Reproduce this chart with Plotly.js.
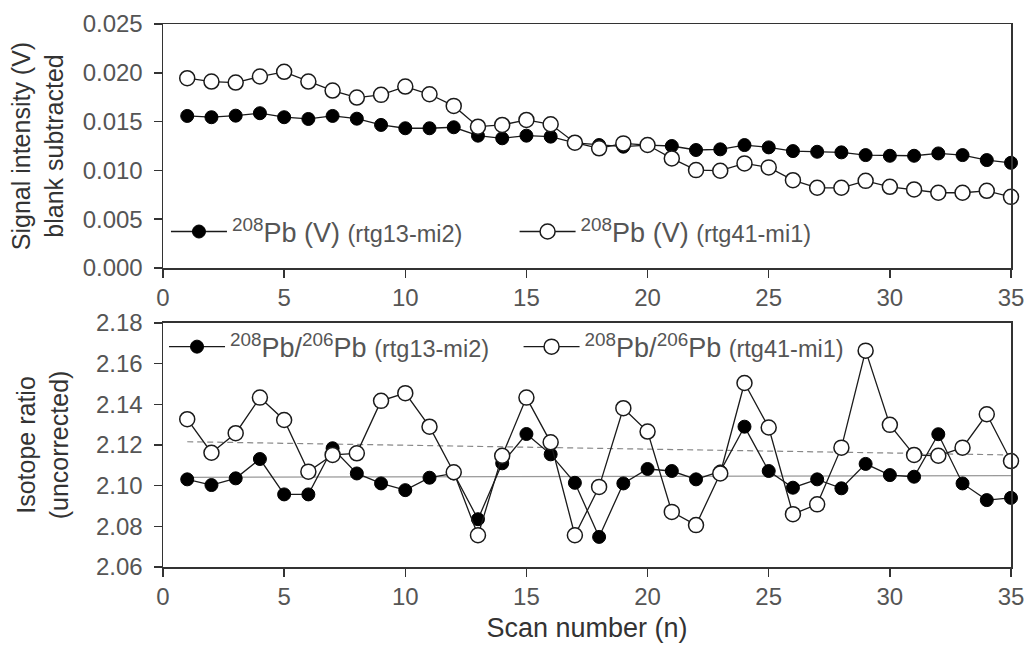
<!DOCTYPE html>
<html>
<head>
<meta charset="utf-8">
<script src="https://cdn.plot.ly/plotly-3.0.1.min.js"></script>
<style>html,body{margin:0;padding:0;background:#fff;}#chart{width:1028px;height:645px;}</style>
</head>
<body>
<div id="chart"></div>
<script>
// ---- data ----
var scan = [1,2,3,4,5,6,7,8,9,10,11,12,13,14,15,16,17,18,19,20,21,22,23,24,25,26,27,28,29,30,31,32,33,34,35];

// 208Pb signal (V), blank subtracted
var pb208_rtg13 = [0.01558,0.01545,0.01561,0.01586,0.01545,0.01527,0.01558,0.01530,0.01466,0.01432,0.01432,0.01442,0.01356,0.01329,0.01356,0.01346,0.01282,0.01260,0.01243,0.01260,0.01250,0.01209,0.01216,0.01260,0.01236,0.01198,0.01191,0.01185,0.01157,0.01150,0.01150,0.01174,0.01157,0.01106,0.01078];
var pb208_rtg41 = [0.01945,0.01910,0.01900,0.01962,0.02010,0.01910,0.01818,0.01746,0.01774,0.01859,0.01780,0.01661,0.01448,0.01466,0.01517,0.01473,0.01284,0.01226,0.01277,0.01260,0.01123,0.01003,0.00997,0.01072,0.01031,0.00900,0.00822,0.00822,0.00893,0.00832,0.00805,0.00771,0.00771,0.00791,0.00729];

// 208Pb/206Pb isotope ratio (uncorrected)
var ratio_rtg13 = [2.1031,2.1003,2.1036,2.1131,2.0957,2.0957,2.1184,2.1060,2.1011,2.0978,2.1039,2.1060,2.0835,2.1110,2.1254,2.1154,2.1014,2.0748,2.1011,2.1082,2.1072,2.1031,2.1070,2.1290,2.1072,2.0990,2.1031,2.0987,2.1107,2.1052,2.1044,2.1253,2.1011,2.0929,2.0940];
var ratio_rtg41 = [2.1327,2.1162,2.1258,2.1433,2.1323,2.1069,2.1151,2.1159,2.1417,2.1455,2.1290,2.1066,2.0756,2.1147,2.1433,2.1213,2.0756,2.0994,2.1381,2.1266,2.0871,2.0806,2.1060,2.1505,2.1286,2.0860,2.0908,2.1187,2.1664,2.1299,2.1151,2.1147,2.1187,2.1351,2.1121];

// trend lines (end points)
var trendX = [1, 35];
var trend_rtg13 = [2.1041, 2.1049];
var trend_rtg41 = [2.1216, 2.1151];

// labels
var name1 = '<sup>208</sup>Pb (V) <span style="font-size:23.5px">(rtg13-mi2)</span>';
var name2 = '<sup>208</sup>Pb (V) <span style="font-size:23.5px">(rtg41-mi1)</span>';
var name3 = '<sup>208</sup>Pb/<sup>206</sup>Pb <span style="font-size:23.5px">(rtg13-mi2)</span>';
var name4 = '<sup>208</sup>Pb/<sup>206</sup>Pb <span style="font-size:23.5px">(rtg41-mi1)</span>';
var xTitle = 'Scan number (n)';
var yTitleTop = 'Signal intensity (V)<br>blank subtracted';
var yTitleBottom = 'Isotope ratio<br>(uncorrected)';

// ---- styles ----
var lineCol = '#1a1a1a';
var filledMarker = {symbol:'circle', size:13, color:'#000', line:{color:'#000', width:1}};
var openMarker = {symbol:'circle', size:15, color:'#fff', line:{color:'#1a1a1a', width:1.5}};

var traces = [
  {x:trendX, y:trend_rtg13, xaxis:'x2', yaxis:'y2', mode:'lines', line:{color:'#999', width:1.2}, showlegend:false, hoverinfo:'skip'},
  {x:trendX, y:trend_rtg41, xaxis:'x2', yaxis:'y2', mode:'lines', line:{color:'#888', width:1.2, dash:'6px,4px'}, showlegend:false, hoverinfo:'skip'},
  {x:scan, y:pb208_rtg13, xaxis:'x', yaxis:'y', mode:'lines+markers', name:name1, legend:'legend',
   line:{color:lineCol, width:1.3}, marker:filledMarker, cliponaxis:false},
  {x:scan, y:pb208_rtg41, xaxis:'x', yaxis:'y', mode:'lines+markers', name:name2, legend:'legend2',
   line:{color:lineCol, width:1.3}, marker:openMarker, cliponaxis:false},
  {x:scan, y:ratio_rtg13, xaxis:'x2', yaxis:'y2', mode:'lines+markers', name:name3, legend:'legend3',
   line:{color:lineCol, width:1.3}, marker:filledMarker, cliponaxis:false},
  {x:scan, y:ratio_rtg41, xaxis:'x2', yaxis:'y2', mode:'lines+markers', name:name4, legend:'legend4',
   line:{color:lineCol, width:1.3}, marker:openMarker, cliponaxis:false}
];

var fam = 'Arial, "Liberation Sans", Helvetica, sans-serif';
var tickFont = {family:fam, size:24, color:'#555'};
var yTitleFont = {family:fam, size:25, color:'#333'};
var xTitleFont = {family:fam, size:27, color:'#333'};

function xAx(extra){
  return Object.assign({range:[0,35], tick0:0, dtick:5, ticks:'outside', ticklen:8, tickwidth:1.5, tickcolor:'#333',
    showline:true, linecolor:'#333', linewidth:1.5, mirror:true, showgrid:false, zeroline:false,
    tickfont:tickFont, fixedrange:true}, extra);
}
function yAx(extra){
  return Object.assign({ticks:'outside', ticklen:8, tickwidth:1.5, tickcolor:'#333',
    showline:true, linecolor:'#333', linewidth:1.5, mirror:true, showgrid:false, zeroline:false,
    tickfont:tickFont, ticklabelstandoff:6, fixedrange:true}, extra);
}
function leg(x, y){
  return {x:x, y:y, xanchor:'left', yanchor:'middle', orientation:'h', bgcolor:'rgba(0,0,0,0)',
    borderwidth:0, font:{family:fam, size:27, color:'#555'}, itemwidth:56};
}

var layout = {
  width:1028, height:645,
  margin:{l:163, r:17, t:24, b:78},
  paper_bgcolor:'#fff', plot_bgcolor:'#fff',
  showlegend:true,
  xaxis: xAx({domain:[0,1], anchor:'y'}),
  yaxis: yAx({domain:[0.5506,1], anchor:'x', range:[0,0.025], tick0:0, dtick:0.005, tickformat:'.3f',
    title:{text:yTitleTop, font:yTitleFont, standoff:12}}),
  xaxis2: xAx({domain:[0,1], anchor:'y2', title:{text:xTitle, font:xTitleFont, standoff:9}}),
  yaxis2: yAx({domain:[0,0.4494], anchor:'x2', range:[2.06,2.18], tick0:2.06, dtick:0.02, tickformat:'.2f',
    title:{text:yTitleBottom, font:yTitleFont, standoff:20}}),
  legend: leg(0.0035, 0.617),
  legend2: leg(0.4146, 0.617),
  legend3: leg(0.0012, 0.405),
  legend4: leg(0.4193, 0.405)
};

Plotly.newPlot('chart', traces, layout, {displayModeBar:false, staticPlot:true});
</script>
</body>
</html>
